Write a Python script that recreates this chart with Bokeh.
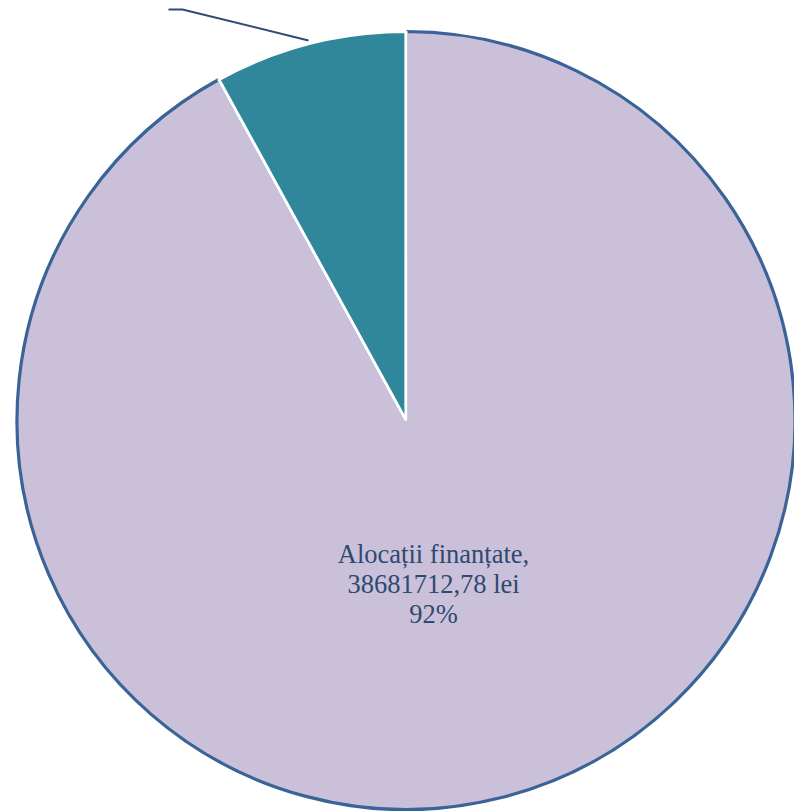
import math
from bokeh.plotting import figure
from bokeh.models import Range1d
from bokeh.core.properties import value
from bokeh.embed import file_html
from bokeh.resources import INLINE

# ---- data ----
categories = ["Alte alocații", "Alocații finanțate"]
amounts = [3360000.00, 38681712.78]
percent_labels = ["8%", "92%"]
fill_colors = ["#30869B", "#CBC0DA"]
edge_colors = ["#FFFFFF", "#3A6397"]

W, H = 794, 811
p = figure(width=W, height=H, output_backend="svg", toolbar_location=None,
           x_range=Range1d(0, W), y_range=Range1d(0, H),
           min_border=0, outline_line_color=None)
p.axis.visible = False
p.grid.visible = False
p.background_fill_color = "white"
p.border_fill_color = "white"

cx, cy = 405.5, 811 - 420.0
r = 389.0

total = sum(amounts)
angles = [a / total * 2 * math.pi for a in amounts]
start0 = math.pi / 2
starts = [start0, start0 + angles[0]]
ends = [start0 + angles[0], start0 + 2 * math.pi]

for i in [1, 0]:
    p.wedge(x=cx, y=cy, radius=r, start_angle=starts[i], end_angle=ends[i],
            fill_color=fill_colors[i], line_color=edge_colors[i], line_width=3.2,
            direction="anticlock")

# leader line for the small slice (its label lies outside the visible area)
p.line(x=[308, 182, 168], y=[811 - 40, 811 - 9, 811 - 9], line_color="#2F4B72", line_width=2)

def fmt(v):
    return f"{v:.2f}".replace(".", ",")

lines = [categories[1] + ",", fmt(amounts[1]) + " lei", percent_labels[1]]
tx = 433
tys = [811 - 553, 811 - 583, 811 - 613]
p.text(x=[tx] * 3, y=tys, text=lines, text_align="center", text_baseline="middle",
       text_font=value("'Liberation Serif', 'Times New Roman', serif"),
       text_font_size="26.5px", text_color="#2E4A6E")

open("out.html", "w").write(file_html(p, INLINE))
